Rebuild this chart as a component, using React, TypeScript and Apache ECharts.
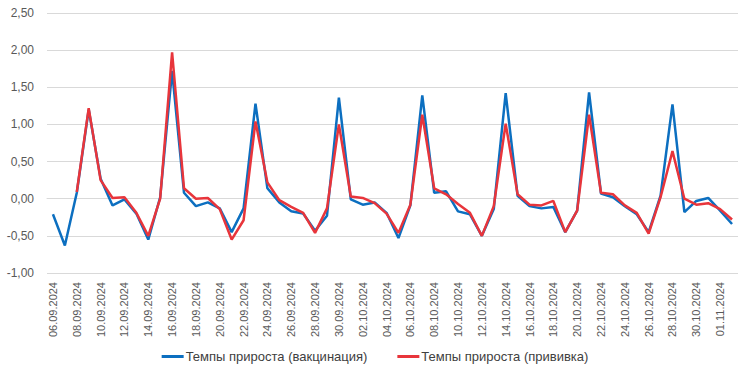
import React, { useEffect, useRef } from "react";
import * as echarts from "echarts";

const categories: string[] = [
  "06.09.2024", "07.09.2024", "08.09.2024", "09.09.2024", "10.09.2024", "11.09.2024", "12.09.2024",
  "13.09.2024", "14.09.2024", "15.09.2024", "16.09.2024", "17.09.2024", "18.09.2024", "19.09.2024",
  "20.09.2024", "21.09.2024", "22.09.2024", "23.09.2024", "24.09.2024", "25.09.2024", "26.09.2024",
  "27.09.2024", "28.09.2024", "29.09.2024", "30.09.2024", "01.10.2024", "02.10.2024", "03.10.2024",
  "04.10.2024", "05.10.2024", "06.10.2024", "07.10.2024", "08.10.2024", "09.10.2024", "10.10.2024",
  "11.10.2024", "12.10.2024", "13.10.2024", "14.10.2024", "15.10.2024", "16.10.2024", "17.10.2024",
  "18.10.2024", "19.10.2024", "20.10.2024", "21.10.2024", "22.10.2024", "23.10.2024", "24.10.2024",
  "25.10.2024", "26.10.2024", "27.10.2024", "28.10.2024", "29.10.2024", "30.10.2024", "31.10.2024",
  "01.11.2024", "02.11.2024",
];

const vaccinationName = "Темпы прироста (вакцинация)";
const vaccination: number[] = [
  -0.21, -0.63, 0.08, 1.2, 0.27, -0.09, -0.01, -0.2, -0.55, 0.02,
  1.72, 0.08, -0.1, -0.05, -0.13, -0.45, -0.13, 1.28, 0.14, -0.05,
  -0.17, -0.2, -0.43, -0.23, 1.36, -0.01, -0.08, -0.05, -0.19, -0.53,
  -0.09, 1.39, 0.08, 0.1, -0.17, -0.21, -0.5, -0.14, 1.42, 0.04,
  -0.1, -0.13, -0.11, -0.45, -0.16, 1.43, 0.07, 0.02, -0.1, -0.21,
  -0.45, 0.04, 1.27, -0.18, -0.03, 0.01, -0.16, -0.34,
];

const inoculationName = "Темпы прироста (прививка)";
const inoculation: (number | null)[] = [
  null, null, 0.09, 1.22, 0.25, 0.01, 0.02, -0.19, -0.5, 0.0,
  1.97, 0.14, 0.0, 0.01, -0.14, -0.55, -0.29, 1.04, 0.22, -0.02,
  -0.11, -0.19, -0.46, -0.13, 1.0, 0.03, 0.01, -0.06, -0.2, -0.46,
  -0.08, 1.13, 0.14, 0.06, -0.07, -0.19, -0.5, -0.1, 1.01, 0.06,
  -0.08, -0.09, -0.03, -0.45, -0.16, 1.13, 0.08, 0.06, -0.09, -0.19,
  -0.47, 0.02, 0.64, 0.0, -0.08, -0.06, -0.14, -0.28,
];

const yMin = -1;
const yMax = 2.5;
const yStep = 0.5;

export default function App() {
  const ref = useRef<HTMLDivElement>(null);

  useEffect(() => {
    if (!ref.current) return;
    const chart = echarts.init(ref.current, undefined, { renderer: "svg" });
    const font = "'Liberation Sans', Arial, sans-serif";
    chart.setOption({
      animation: false,
      backgroundColor: "#ffffff",
      grid: { left: 47, right: 12, top: 13, bottom: 103, containLabel: false },
      legend: {
        bottom: 8,
        left: "center",
        itemGap: 30,
        itemWidth: 22,
        itemHeight: 3,
        icon: "rect",
        textStyle: { fontFamily: font, fontSize: 13, color: "#404040", padding: [0, 0, 0, -3] },
        data: [vaccinationName, inoculationName],
      },
      xAxis: {
        type: "category",
        data: categories,
        boundaryGap: true,
        axisLine: { show: true, lineStyle: { color: "#d9d9d9", width: 1 } },
        axisTick: { show: false },
        axisLabel: {
          interval: 1,
          rotate: 90,
          fontFamily: font,
          fontSize: 11,
          color: "#595959",
          margin: 9,
        },
        splitLine: { show: false },
      },
      yAxis: {
        type: "value",
        min: yMin,
        max: yMax,
        interval: yStep,
        axisLine: { show: false },
        axisTick: { show: false },
        axisLabel: {
          fontFamily: font,
          fontSize: 12,
          color: "#595959",
          margin: 13,
          formatter: (v: number) => v.toFixed(2).replace(".", ","),
        },
        splitLine: { lineStyle: { color: "#d9d9d9", width: 1 } },
      },
      series: [
        {
          name: vaccinationName,
          type: "line",
          data: vaccination,
          symbol: "none",
          lineStyle: { color: "#0c6fc0", width: 2.5 },
          itemStyle: { color: "#0c6fc0" },
          z: 2,
        },
        {
          name: inoculationName,
          type: "line",
          data: inoculation,
          symbol: "none",
          lineStyle: { color: "#e8353b", width: 2.5 },
          itemStyle: { color: "#e8353b" },
          z: 3,
        },
      ],
    });
    return () => chart.dispose();
  }, []);

  return (
    <div
      style={{
        position: "fixed",
        left: 0,
        top: 0,
        width: 750,
        height: 376,
        boxSizing: "border-box",
        border: "1px solid #d9d9d9",
        background: "#fff",
      }}
    >
      <div ref={ref} style={{ position: "absolute", left: -1, top: -1, width: 750, height: 376 }} />
    </div>
  );
}
